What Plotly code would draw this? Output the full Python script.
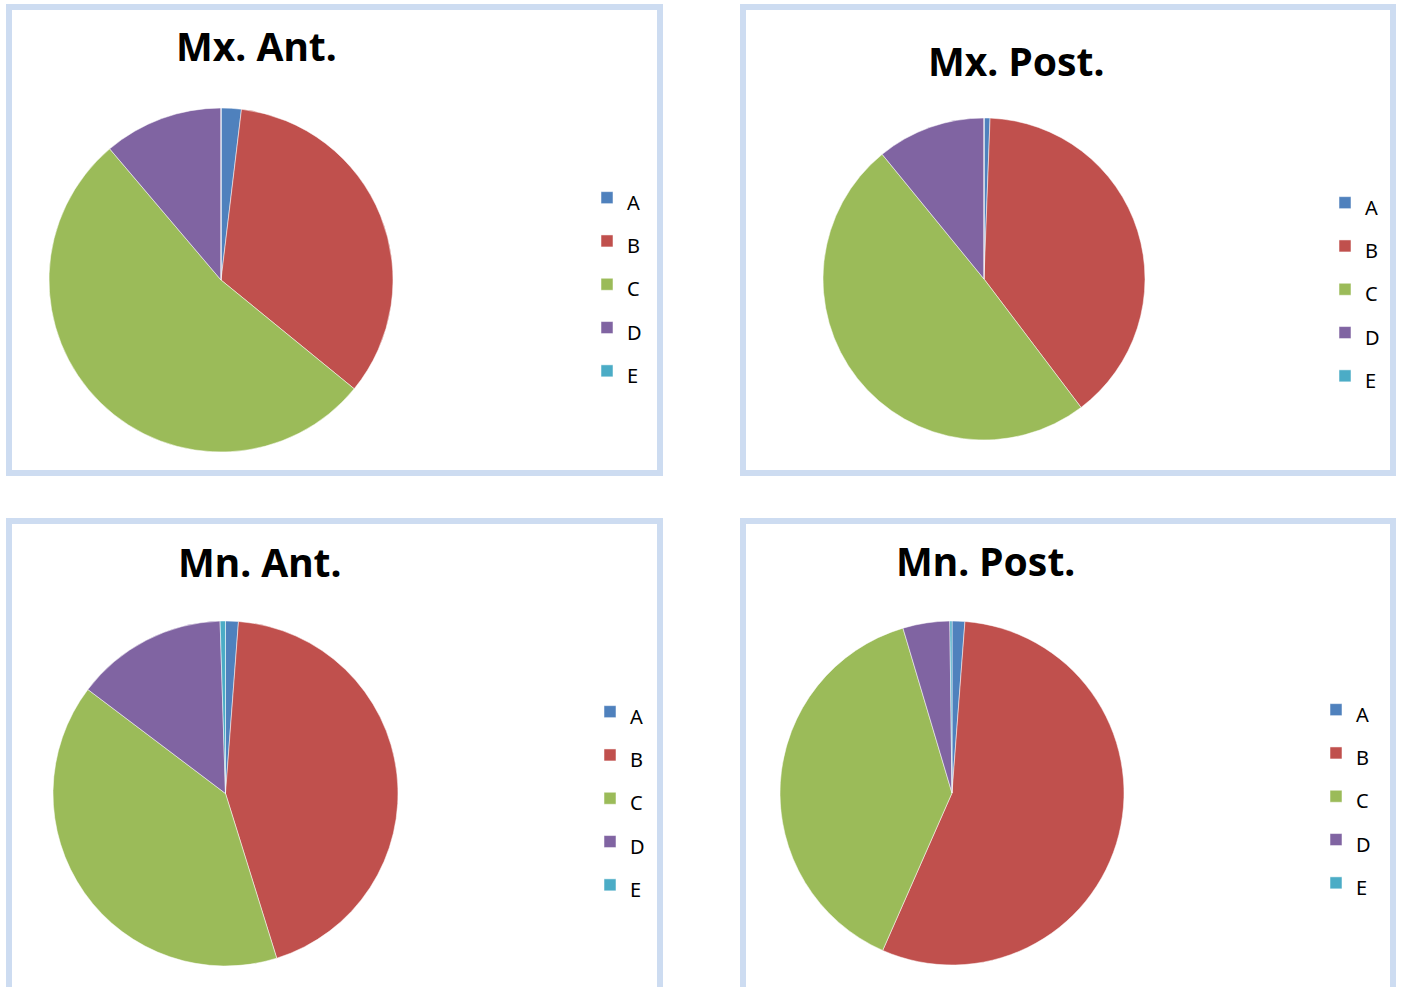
import plotly.graph_objects as go

W, H = 1401, 987

categories = ["A", "B", "C", "D", "E"]
colors = ["#4F81BD", "#C0504D", "#9BBB59", "#8064A2", "#4BACC6"]

titles = ["Mx. Ant.", "Mx. Post.", "Mn. Ant.", "Mn. Post."]
mx_ant = [1.9, 34.0, 52.9, 11.2, 0.0]
mx_post = [0.6, 39.1, 49.4, 10.9, 0.0]
mn_ant = [1.2, 44.0, 40.1, 14.2, 0.5]
mn_post = [1.2, 55.4, 38.8, 4.4, 0.2]
series = [mx_ant, mx_post, mn_ant, mn_post]

# layout in pixels
pie_boxes = [(49, 393, 108, 452), (822, 1146, 118, 440), (53, 398, 621, 966), (780, 1124, 621, 965)]
title_pos = [(256, 46), (1016, 61), (259, 561), (986, 560)]
legend_marker = [(607, 193), (1345, 198), (610, 707), (1336, 705)]
panels = [(9, 660, 7, 473), (743, 1393, 7, 473), (9, 660, 521, 995), (743, 1393, 521, 995)]

def px(x):
    return x / W

def py(y):
    return 1 - y / H

fig = go.Figure()
legend_names = ["legend", "legend2", "legend3", "legend4"]
for i, vals in enumerate(series):
    x0, x1, y0, y1 = pie_boxes[i]
    # trailing spaces keep legend entries of each panel distinct
    labels = ['<span style="font-size:20px">%s</span>%s' % (c, " " * i) for c in categories]
    fig.add_trace(go.Pie(
        labels=labels, values=vals, sort=False, direction="clockwise", rotation=0,
        marker=dict(colors=colors, line=dict(color="rgba(255,255,255,0.5)", width=1)),
        textinfo="none", hoverinfo="label+value",
        domain=dict(x=[px(x0), px(x1)], y=[py(y1), py(y0)]),
        legend=legend_names[i], showlegend=True,
    ))

layout_kwargs = {}
for i, name in enumerate(legend_names):
    mx, my = legend_marker[i]
    layout_kwargs[name] = dict(
        x=px(mx - 20), y=py(my - 22), xanchor="left", yanchor="top",
        font=dict(family="Noto Sans, Open Sans, sans-serif", size=31, color="#000000"),
        bgcolor="rgba(0,0,0,0)", itemwidth=30,
    )

annotations = []
for i, t in enumerate(titles):
    tx, ty = title_pos[i]
    annotations.append(dict(
        text="<b>%s</b>" % t, x=px(tx), y=py(ty), xref="paper", yref="paper",
        xanchor="center", yanchor="middle", showarrow=False,
        font=dict(family="Noto Sans, Open Sans, sans-serif", size=39, color="#000000"),
    ))

shapes = []
for (x0, x1, y0, y1) in panels:
    shapes.append(dict(type="rect", xref="paper", yref="paper",
                       x0=px(x0), x1=px(x1), y0=py(y1), y1=py(y0),
                       line=dict(color="#CDDCF1", width=6), fillcolor="rgba(0,0,0,0)",
                       layer="below"))

fig.update_layout(
    width=W, height=H, margin=dict(l=0, r=0, t=0, b=0),
    paper_bgcolor="white", plot_bgcolor="white",
    annotations=annotations, shapes=shapes, **layout_kwargs,
)

fig.write_html("out.html", config={"displayModeBar": False},
               post_script="document.body.style.margin='0';")
